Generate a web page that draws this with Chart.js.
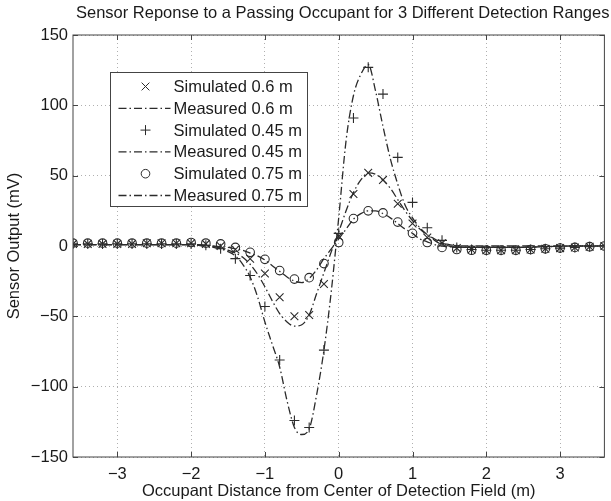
<!DOCTYPE html>
<html lang="en">
<head>
  <meta charset="UTF-8">
  <title>Sensor Reponse to a Passing Occupant</title>
  <script src="https://cdn.jsdelivr.net/npm/chart.js"></script>
  <style>
    html, body { margin:0; padding:0; background:#fff; }
    #wrap { width:611px; height:501px; }
  </style>
</head>
<body>
<div id="wrap"><canvas id="sensorChart" width="611" height="501"></canvas></div>

<script>
// ---- data ----
const simX = [-3.6,-3.4,-3.2,-3.0,-2.8,-2.6,-2.4,-2.2,-2.0,-1.8,-1.6,-1.4,-1.2,-1.0,-0.8,-0.6,-0.4,-0.2,
              0.0,0.2,0.4,0.6,0.8,1.0,1.2,1.4,1.6,1.8,2.0,2.2,2.4,2.6,2.8,3.0,3.2,3.4,3.6];
const sim60 = [1.5,1.5,1.5,1.5,1.5,2,2,2,2,1.5,0,-2.5,-9,-19.5,-36.5,-50,-49,-27,
               7,37,52,47,30,16,6,2,-1.5,-2.5,-3,-3,-3,-2.5,-2,-1.5,-1,-0.5,0];
const sim45 = [1.5,1.5,1.5,1.5,1.5,1.5,1.5,1.5,1.5,0.5,-2,-9,-21,-43,-81,-124,-129,-74,
               9,91,127,108,63,31,13,4,-1,-2.5,-3,-3,-3,-2.5,-2,-1.5,-1,-0.5,0];
const sim75 = [2,2,2,2,2,2,2,2,2.5,2,1.5,-1,-4.5,-9.5,-17.5,-23.5,-22.5,-12.5,
               2.5,19.5,25,23.5,17,9,2.5,-1,-2.5,-3,-3,-3,-3,-2.5,-2,-1.5,-1,-0.5,0];

const measX = [-3.6,-3.2,-2.8,-2.4,-2.0,-1.9,-1.8,-1.7,-1.6,-1.5,-1.4,-1.3,-1.2,-1.1,-1.0,-0.9,-0.8,-0.7,-0.6,-0.5,-0.4,-0.3,-0.2,-0.1,
               0.0,0.1,0.2,0.3,0.4,0.5,0.6,0.7,0.8,0.9,1.0,1.1,1.2,1.3,1.4,1.5,1.6,1.7,1.8,1.9,2.0,2.4,2.8,3.2,3.6];
const meas60 = [1,1,1,1,1,0.5,0,-0.5,-1.5,-3,-5,-8,-13,-20,-29,-39,-48,-54,-57,-56,-49,-34,-19,-4,
                10,25,38,47,52,51,47,41,33,25,18,12,8,5,2,1,0,0,0,0,0,0,0,0,0];
const meas45 = [1,1,1,1,1,0.5,0,-1,-2,-4,-7,-13,-22,-36,-54,-70,-86,-110,-129,-134,-130,-106,-74,-32,
                20,75,107,122,129,110,85,62,44,29,20,13,8,4,1,0,-1,-1,-1,-1,-1,-1,-0.5,0,0];
const meas75 = [1,1,1,1,1,1,0.5,0,-0.5,-1,-2,-3,-5,-7,-10,-14,-18,-22,-25,-26,-23,-17,-9,-2,
                5,12,19,23,25,25,23,20,16,12,9,5,3,1,0,-0.5,-1,-1,-1,-1,-1,-1,-0.5,0,0];

const xTicks = [-3,-2,-1,0,1,2,3];
const yTicks = [-150,-100,-50,0,50,100,150];
const titleText = 'Sensor Reponse to a Passing Occupant for 3 Different Detection Ranges';

const INK = '#2b2b2b';
const FONT = "'Liberation Sans', Arial, Helvetica, sans-serif";
const FSIZE = 16.5;
const DASHDOT = [8,3,1.5,3];

const pts = (xs, ys) => xs.map((x,i) => ({x, y: ys[i]}));
const minus = v => String(v).replace('-', '\u2212');

// title placed over the axes box, running off the right edge like the original
const axesTitle = {
  id:'axesTitle',
  afterDraw(chart){
    const {ctx, chartArea:a} = chart;
    ctx.save();
    ctx.fillStyle = '#1a1a1a';
    ctx.font = `${FSIZE}px ${FONT}`;
    ctx.textAlign = 'center';
    ctx.textBaseline = 'middle';
    ctx.fillText(titleText, (a.left + a.right)/2 + 4, 13);
    ctx.restore();
  }
};

// frame with inward ticks, MATLAB style
const framePlugin = {
  id:'frame',
  afterDraw(chart){
    const {ctx, chartArea:a, scales:{x, y}} = chart;
    ctx.save();
    ctx.strokeStyle = '#444';
    ctx.lineWidth = 1;
    ctx.strokeRect(a.left, a.top, a.right-a.left, a.bottom-a.top);
    ctx.beginPath();
    xTicks.forEach(v => {
      const px = Math.round(x.getPixelForValue(v)) + .5;
      ctx.moveTo(px, a.top); ctx.lineTo(px, a.top+5);
      ctx.moveTo(px, a.bottom); ctx.lineTo(px, a.bottom-5);
    });
    yTicks.forEach(v => {
      const py = Math.round(y.getPixelForValue(v)) + .5;
      ctx.moveTo(a.left, py); ctx.lineTo(a.left+5, py);
      ctx.moveTo(a.right, py); ctx.lineTo(a.right-5, py);
    });
    ctx.stroke();
    ctx.restore();
  }
};

// boxed legend inside the axes
const legendBox = {
  id:'legendBox',
  afterDatasetsDraw(chart){
    const ctx = chart.ctx;
    const L = 110.5, T = 72.5, W = 197, H = 134, rowH = 21.8;
    ctx.save();
    ctx.fillStyle = '#fff';
    ctx.fillRect(L, T, W, H);
    ctx.strokeStyle = '#444';
    ctx.lineWidth = 1;
    ctx.strokeRect(L, T, W, H);
    chart.data.datasets.forEach((ds, i) => {
      const cy = T + 14 + i*rowH;
      const cx = L + 35;
      ctx.strokeStyle = INK;
      ctx.lineWidth = 1;
      ctx.beginPath();
      if (ds.showLine === false) {
        const r = ds.pointRadius;
        if (ds.pointStyle === 'crossRot') {
          const d = r*0.707;
          ctx.moveTo(cx-d, cy-d); ctx.lineTo(cx+d, cy+d);
          ctx.moveTo(cx-d, cy+d); ctx.lineTo(cx+d, cy-d);
        } else if (ds.pointStyle === 'cross') {
          ctx.moveTo(cx-r, cy); ctx.lineTo(cx+r, cy);
          ctx.moveTo(cx, cy-r); ctx.lineTo(cx, cy+r);
        } else {
          ctx.arc(cx, cy, r, 0, Math.PI*2);
        }
        ctx.stroke();
      } else {
        ctx.setLineDash(DASHDOT);
        ctx.lineWidth = ds.borderWidth;
        ctx.moveTo(L+8, cy); ctx.lineTo(L+60, cy);
        ctx.stroke();
        ctx.setLineDash([]);
      }
      ctx.fillStyle = '#1a1a1a';
      ctx.font = `${FSIZE}px ${FONT}`;
      ctx.textBaseline = 'middle';
      ctx.fillText(ds.label, L + 63, cy + 1);
    });
    ctx.restore();
  }
};

const simStyle = (style, r) => ({
  showLine:false, pointStyle:style, pointRadius:r,
  pointBorderColor:INK, pointBackgroundColor:'rgba(0,0,0,0)', pointBorderWidth:1.1
});
const measStyle = {
  borderColor:INK, borderWidth:1.3, borderDash:DASHDOT, pointRadius:0,
  fill:false, cubicInterpolationMode:'monotone'
};

new Chart(document.getElementById('sensorChart'), {
  type:'line',
  data:{ datasets:[
    { label:'Simulated 0.6 m',  data:pts(simX, sim60), ...simStyle('crossRot', 5.5) },
    { label:'Measured 0.6 m',   data:pts(measX, meas60), ...measStyle },
    { label:'Simulated 0.45 m', data:pts(simX, sim45), ...simStyle('cross', 5) },
    { label:'Measured 0.45 m',  data:pts(measX, meas45), ...measStyle },
    { label:'Simulated 0.75 m', data:pts(simX, sim75), ...simStyle('circle', 4.3) },
    { label:'Measured 0.75 m',  data:pts(measX, meas75), ...measStyle }
  ]},
  options:{
    responsive:false, animation:false, events:[],
    layout:{ padding:{ left:0, right:1, top:35, bottom:0 } },
    plugins:{
      legend:{ display:false },
      tooltip:{ enabled:false },
      title:{ display:false }
    },
    scales:{
      x:{ type:'linear', min:-3.6, max:3.6,
          afterBuildTicks: s => { s.ticks = xTicks.map(v => ({value:v})); },
          afterFit: s => { s.height = 44; },
          grid:{ color:'#b0b0b0', lineWidth:1, drawTicks:false },
          border:{ display:false, dash:[1,3] },
          ticks:{ color:'#1a1a1a', padding:8, maxRotation:0, font:{ family:FONT, size:FSIZE }, callback:minus },
          title:{ display:true, text:'Occupant Distance from Center of Detection Field (m)',
                  color:'#1a1a1a', font:{ family:FONT, size:FSIZE }, padding:{ top:0, bottom:0 } } },
      y:{ type:'linear', min:-150, max:150,
          afterBuildTicks: s => { s.ticks = yTicks.map(v => ({value:v})); },
          afterFit: s => { s.width = 73; },
          grid:{ color:'#b0b0b0', lineWidth:1, drawTicks:false },
          border:{ display:false, dash:[1,3] },
          ticks:{ color:'#1a1a1a', padding:5, font:{ family:FONT, size:FSIZE }, callback:minus },
          title:{ display:true, text:'Sensor Output (mV)',
                  color:'#1a1a1a', font:{ family:FONT, size:FSIZE }, padding:{ top:5, bottom:0 } } }
    }
  },
  plugins:[framePlugin, legendBox, axesTitle]
});
</script>
</body>
</html>
